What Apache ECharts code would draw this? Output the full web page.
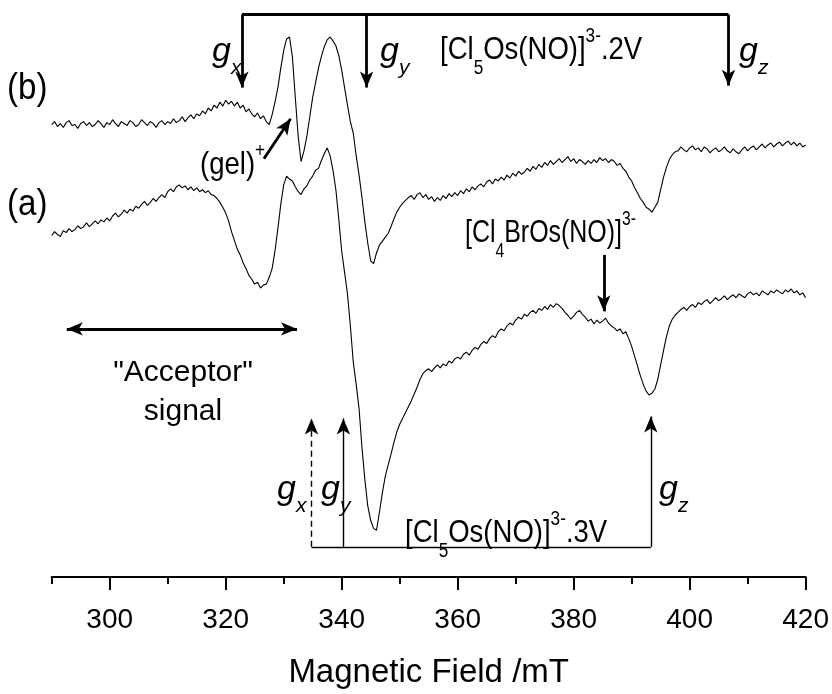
<!DOCTYPE html>
<html>
<head>
<meta charset="utf-8">
<script src="https://cdn.jsdelivr.net/npm/echarts@6/dist/echarts.min.js"></script>
<style>
  html, body { margin: 0; padding: 0; background: #fff; }
  #chart { width: 832px; height: 694px; }
</style>
</head>
<body>
<div id="chart"></div>
<script>
// magnetic field (mT) vs. EPR derivative signal (arb. units, traces offset)
const majorTicks = [300, 320, 340, 360, 380, 400, 420];
const minorTicks = [290, 310, 330, 350, 370, 390, 410];

// trace (b): [Cl5Os(NO)]3-.2V
const traceB = [
  [290,-128],[290.5,-125],[291,-130],[291.5,-127],[292,-131],[292.5,-126],[293,-124],[293.5,-129],[294,-128],[294.5,-132],
  [295,-127],[295.5,-125],[296,-129],[296.5,-126],[297,-130],[297.5,-128],[298,-124],[298.5,-127],[299,-131],[299.5,-126],
  [300,-128],[300.5,-123],[301,-127],[301.5,-130],[302,-125],[302.5,-127],[303,-129],[303.5,-124],[304,-126],[304.5,-130],
  [305,-128],[305.5,-123],[306,-126],[306.5,-129],[307,-125],[307.5,-127],[308,-131],[308.5,-126],[309,-124],[309.5,-128],
  [310,-125],[310.5,-127],[311,-122],[311.5,-126],[312,-124],[312.5,-120],[313,-125],[313.5,-121],[314,-118],[314.5,-122],
  [315,-117],[315.5,-119],[316,-114],[316.5,-117],[317,-111],[317.5,-114],[318,-108],[318.5,-111],[319,-105],[319.5,-109],
  [320,-103],[320.5,-107],[321,-104],[321.5,-109],[322,-105],[322.5,-111],[323,-108],[323.5,-115],[324,-112],[324.5,-117],
  [325,-120],[325.5,-116],[326,-122],[326.5,-119],[327,-125],[327.5,-128],[328,-118],[328.5,-105],[329,-90],[329.5,-70],
  [330,-52],[330.5,-40],[331,-38],[331.5,-58],[332,-100],[332.5,-140],[333,-166],[333.5,-155],[334,-140],[334.5,-120],
  [335,-100],[335.5,-85],[336,-70],[336.5,-58],[337,-48],[337.5,-41],[338,-38],[338.5,-42],[339,-47],[339.5,-57],
  [340,-72],[340.5,-90],[341,-108],[341.5,-125],[342,-137],[342.5,-160],[343,-180],[343.5,-203],[344,-228],[344.5,-250],
  [345,-268],[345.5,-271],[346,-260],[346.5,-252],[347,-248],[347.5,-244],[348,-240],[348.5,-233],[349,-225],[349.5,-218],
  [350,-213],[350.5,-209],[351,-206],[351.5,-203],[352,-201],[352.5,-205],[353,-200],[353.5,-198],[354,-203],[354.5,-200],
  [355,-205],[355.5,-202],[356,-207],[356.5,-203],[357,-206],[357.5,-201],[358,-204],[358.5,-199],[359,-202],[359.5,-198],
  [360,-201],[360.5,-196],[361,-199],[361.5,-194],[362,-197],[362.5,-192],[363,-195],[363.5,-191],[364,-189],[364.5,-192],
  [365,-187],[365.5,-185],[366,-189],[366.5,-184],[367,-186],[367.5,-182],[368,-185],[368.5,-180],[369,-183],[369.5,-178],
  [370,-181],[370.5,-176],[371,-179],[371.5,-177],[372,-173],[372.5,-176],[373,-171],[373.5,-174],[374,-169],[374.5,-172],
  [375,-167],[375.5,-170],[376,-165],[376.5,-169],[377,-166],[377.5,-163],[378,-167],[378.5,-164],[379,-161],[379.5,-166],
  [380,-163],[380.5,-168],[381,-164],[381.5,-166],[382,-169],[382.5,-165],[383,-168],[383.5,-164],[384,-167],[384.5,-162],
  [385,-165],[385.5,-163],[386,-167],[386.5,-164],[387,-166],[387.5,-170],[388,-168],[388.5,-173],[389,-176],[389.5,-182],
  [390,-186],[390.5,-193],[391,-198],[391.5,-204],[392,-208],[392.5,-213],[393,-215],[393.5,-218],[394,-213],[394.5,-208],
  [395,-195],[395.5,-182],[396,-172],[396.5,-164],[397,-159],[397.5,-156],[398,-155],[398.5,-151],[399,-154],[399.5,-156],
  [400,-152],[400.5,-150],[401,-154],[401.5,-152],[402,-156],[402.5,-151],[403,-153],[403.5,-157],[404,-154],[404.5,-152],
  [405,-156],[405.5,-154],[406,-151],[406.5,-155],[407,-157],[407.5,-153],[408,-156],[408.5,-158],[409,-154],[409.5,-151],
  [410,-155],[410.5,-152],[411,-150],[411.5,-154],[412,-151],[412.5,-148],[413,-152],[413.5,-149],[414,-147],[414.5,-151],
  [415,-148],[415.5,-146],[416,-150],[416.5,-147],[417,-145],[417.5,-149],[418,-146],[418.5,-150],[419,-147],[419.5,-151],
  [420,-149]
];

// trace (a): [Cl5Os(NO)]3-.3V
const traceA = [
  [290,-242],[290.5,-238],[291,-241],[291.5,-243],[292,-237],[292.5,-239],[293,-235],[293.5,-238],[294,-236],[294.5,-232],
  [295,-235],[295.5,-233],[296,-229],[296.5,-233],[297,-230],[297.5,-227],[298,-230],[298.5,-226],[299,-228],[299.5,-224],
  [300,-227],[300.5,-222],[301,-219],[301.5,-223],[302,-220],[302.5,-216],[303,-219],[303.5,-215],[304,-217],[304.5,-212],
  [305,-214],[305.5,-210],[306,-207],[306.5,-211],[307,-208],[307.5,-204],[308,-207],[308.5,-203],[309,-200],[309.5,-203],
  [310,-197],[310.5,-194],[311,-197],[311.5,-192],[312,-190],[312.5,-193],[313,-191],[313.5,-195],[314,-192],[314.5,-196],
  [315,-193],[315.5,-197],[316,-195],[316.5,-198],[317,-196],[317.5,-200],[318,-201],[318.5,-204],[319,-208],[319.5,-213],
  [320,-219],[320.5,-227],[321,-238],[321.5,-247],[322,-256],[322.5,-262],[323,-270],[323.5,-276],[324,-283],[324.5,-287],
  [325,-292],[325.5,-290],[326,-296],[326.5,-293],[327,-292],[327.5,-285],[328,-276],[328.5,-258],[329,-235],[329.5,-210],
  [330,-190],[330.5,-181],[331,-184],[331.5,-186],[332,-192],[332.5,-197],[333,-200],[333.5,-194],[334,-191],[334.5,-185],
  [335,-181],[335.5,-175],[336,-173],[336.5,-165],[337,-158],[337.5,-152],[338,-160],[338.5,-175],[339,-195],[339.5,-225],
  [340,-258],[340.5,-280],[341,-302],[341.5,-335],[342,-372],[342.5,-395],[343,-420],[343.5,-460],[344,-493],[344.5,-520],
  [345,-535],[345.5,-543],[346,-545],[346.5,-527],[347,-507],[347.5,-490],[348,-478],[348.5,-467],[349,-455],[349.5,-444],
  [350,-436],[350.5,-430],[351,-424],[351.5,-418],[352,-412],[352.5,-405],[353,-398],[353.5,-390],[354,-384],[354.5,-381],
  [355,-379],[355.5,-382],[356,-378],[356.5,-375],[357,-378],[357.5,-374],[358,-376],[358.5,-371],[359,-373],[359.5,-369],
  [360,-367],[360.5,-369],[361,-364],[361.5,-362],[362,-365],[362.5,-360],[363,-357],[363.5,-359],[364,-354],[364.5,-351],
  [365,-353],[365.5,-348],[366,-345],[366.5,-347],[367,-341],[367.5,-338],[368,-340],[368.5,-335],[369,-332],[369.5,-334],
  [370,-329],[370.5,-326],[371,-328],[371.5,-323],[372,-325],[372.5,-321],[373,-319],[373.5,-322],[374,-317],[374.5,-319],
  [375,-315],[375.5,-318],[376,-313],[376.5,-316],[377,-312],[377.5,-314],[378,-317],[378.5,-321],[379,-324],[379.5,-328],
  [380,-325],[380.5,-321],[381,-319],[381.5,-323],[382,-326],[382.5,-330],[383,-328],[383.5,-333],[384,-329],[384.5,-332],
  [385,-330],[385.5,-327],[386,-332],[386.5,-335],[387,-337],[387.5,-340],[388,-338],[388.5,-343],[389,-341],[389.5,-348],
  [390,-356],[390.5,-366],[391,-376],[391.5,-386],[392,-395],[392.5,-402],[393,-406],[393.5,-404],[394,-400],[394.5,-390],
  [395,-375],[395.5,-360],[396,-346],[396.5,-335],[397,-328],[397.5,-324],[398,-321],[398.5,-318],[399,-316],[399.5,-319],
  [400,-315],[400.5,-313],[401,-316],[401.5,-311],[402,-313],[402.5,-310],[403,-308],[403.5,-312],[404,-309],[404.5,-306],
  [405,-309],[405.5,-307],[406,-304],[406.5,-308],[407,-305],[407.5,-303],[408,-306],[408.5,-302],[409,-304],[409.5,-306],
  [410,-302],[410.5,-300],[411,-303],[411.5,-301],[412,-304],[412.5,-299],[413,-301],[413.5,-303],[414,-299],[414.5,-301],
  [415,-298],[415.5,-300],[416,-302],[416.5,-298],[417,-300],[417.5,-297],[418,-301],[418.5,-299],[419,-303],[419.5,-301],
  [420,-306]
];

// g-value positions (mT) for the two species
const gTop = { gx: 322.8, gy: 344.3, gz: 406.7 };
const gBottom = { gx: 334.8, gy: 340.3, gz: 393.3 };
const brMarker = 385.2;
const acceptorRange = [292.6, 332.3];

const chart = echarts.init(document.getElementById('chart'));
const FONT = 'Liberation Sans, Arial, sans-serif';

const thick = { color: '#000', width: 2.8, type: 'solid' };
const thin = { color: '#000', width: 1.4, type: 'solid' };

function seg(x1, y1, x2, y2, style, endSym, startSym) {
  return [
    { coord: [x1, y1], symbol: startSym || 'none', lineStyle: style },
    { coord: [x2, y2], symbol: endSym || 'none' }
  ];
}

const marks = [
  // top bracket for the .2V species
  seg(gTop.gx, -15, gTop.gz, -15, thick),
  seg(gTop.gx, -15, gTop.gx, -90, thick, 'arrow'),
  seg(gTop.gy, -15, gTop.gy, -90, thick, 'arrow'),
  seg(gTop.gz, -15, gTop.gz, -88, thick, 'arrow'),
  // (gel)+ pointer
  seg(326.6, -163, 331.2, -122, thick, 'arrow'),
  // Br marker
  seg(brMarker, -262, brMarker, -320, thick, 'arrow'),
  // acceptor range
  seg(acceptorRange[0], -338, acceptorRange[1], -338, thick, 'arrow', 'arrow'),
  // bottom bracket for the .3V species
  seg(gBottom.gx, -562, gBottom.gz, -562, thin),
  seg(gBottom.gx, -562, gBottom.gx, -430, { color: '#000', width: 1.4, type: [6, 4] }, 'arrow'),
  seg(gBottom.gy, -562, gBottom.gy, -430, thin, 'arrow'),
  seg(gBottom.gz, -562, gBottom.gz, -428, thin, 'arrow')
];

const rich = {
  m: { fontSize: 32, fontFamily: FONT, lineHeight: 56, verticalAlign: 'middle', fill: '#000' },
  s: { fontSize: 20, fontFamily: FONT, lineHeight: 22, verticalAlign: 'bottom', fill: '#000' },
  p: { fontSize: 20, fontFamily: FONT, lineHeight: 22, verticalAlign: 'top', padding: [4, 0, 0, 0], fill: '#000' },
  n: { fontSize: 30, fontFamily: FONT, lineHeight: 40, verticalAlign: 'middle', fill: '#000' },
  L: { fontSize: 36, fontFamily: FONT, lineHeight: 44, verticalAlign: 'middle', fill: '#000' },
  g: { fontSize: 34, fontFamily: FONT, fontStyle: 'italic', lineHeight: 54, verticalAlign: 'middle', fill: '#000' },
  gs: { fontSize: 21, fontFamily: FONT, fontStyle: 'italic', lineHeight: 22, verticalAlign: 'bottom', fill: '#000' }
};

function txt(x, y, text, align, sx) {
  return {
    type: 'text', x: x, y: y, silent: true, scaleX: sx || 1,
    style: { text: text, rich: rich, align: align || 'left', verticalAlign: 'middle', fill: '#000',
             fontFamily: FONT, fontSize: 30 }
  };
}

const axisBase = {
  type: 'value', min: 290, max: 420, position: 'bottom',
  splitLine: { show: false }
};

const option = {
  animation: false,
  grid: { left: 51.7, right: 24, top: 0, bottom: 101 },
  xAxis: [
    Object.assign({}, axisBase, {
      name: 'Magnetic Field /mT', nameLocation: 'middle', nameGap: 79,
      nameTextStyle: { fontSize: 33, fontFamily: FONT, color: '#000' },
      axisLine: { show: true, onZero: false, lineStyle: { color: '#000', width: 2 } },
      axisTick: { show: true, inside: false, length: 13, customValues: majorTicks,
                  lineStyle: { color: '#000', width: 2 } },
      axisLabel: { fontSize: 28, fontFamily: FONT, color: '#000', margin: 29, customValues: majorTicks }
    }),
    Object.assign({}, axisBase, {
      axisLine: { show: false, onZero: false },
      axisTick: { show: true, inside: false, length: 7, customValues: minorTicks,
                  lineStyle: { color: '#000', width: 2 } },
      axisLabel: { show: false }
    })
  ],
  yAxis: { type: 'value', min: -593, max: 0, show: false },
  series: [
    {
      name: '(b)', type: 'line', data: traceB, showSymbol: false, symbol: 'none',
      lineStyle: { color: '#000', width: 1.1 }, silent: true
    },
    {
      name: '(a)', type: 'line', data: traceA, showSymbol: false, symbol: 'none',
      lineStyle: { color: '#000', width: 1.1 }, silent: true,
      markLine: {
        silent: true, animation: false, symbolSize: [10, 16],
        label: { show: false }, emphasis: { disabled: true },
        data: marks
      }
    }
  ],
  graphic: [
    txt(7, 89, '{L|(b)}', 'left', 0.92),
    txt(7, 205, '{L|(a)}', 'left', 0.92),
    txt(212, 52, '{g|g}{gs|x}'),
    txt(380, 52, '{g|g}{gs|y}'),
    txt(739, 52, '{g|g}{gs|z}'),
    txt(440, 50, '{m|[Cl}{s|5}{m|Os(NO)]}{p|3-}{m|.2V}', 'left', 0.86),
    txt(200, 165, '{m|(gel)}{p|+}', 'left', 0.86),
    txt(465, 233, '{m|[Cl}{s|4}{m|BrOs(NO)]}{p|3-}', 'left', 0.78),
    txt(183, 373, '{n|"Acceptor"}', 'center'),
    txt(183, 412, '{n|signal}', 'center'),
    txt(277, 490, '{g|g}{gs|x}'),
    txt(321, 490, '{g|g}{gs|y}'),
    txt(659, 490, '{g|g}{gs|z}'),
    txt(405, 533, '{m|[Cl}{s|5}{m|Os(NO)]}{p|3-}{m|.3V}', 'left', 0.86)
  ]
};

chart.setOption(option);
</script>
</body>
</html>
